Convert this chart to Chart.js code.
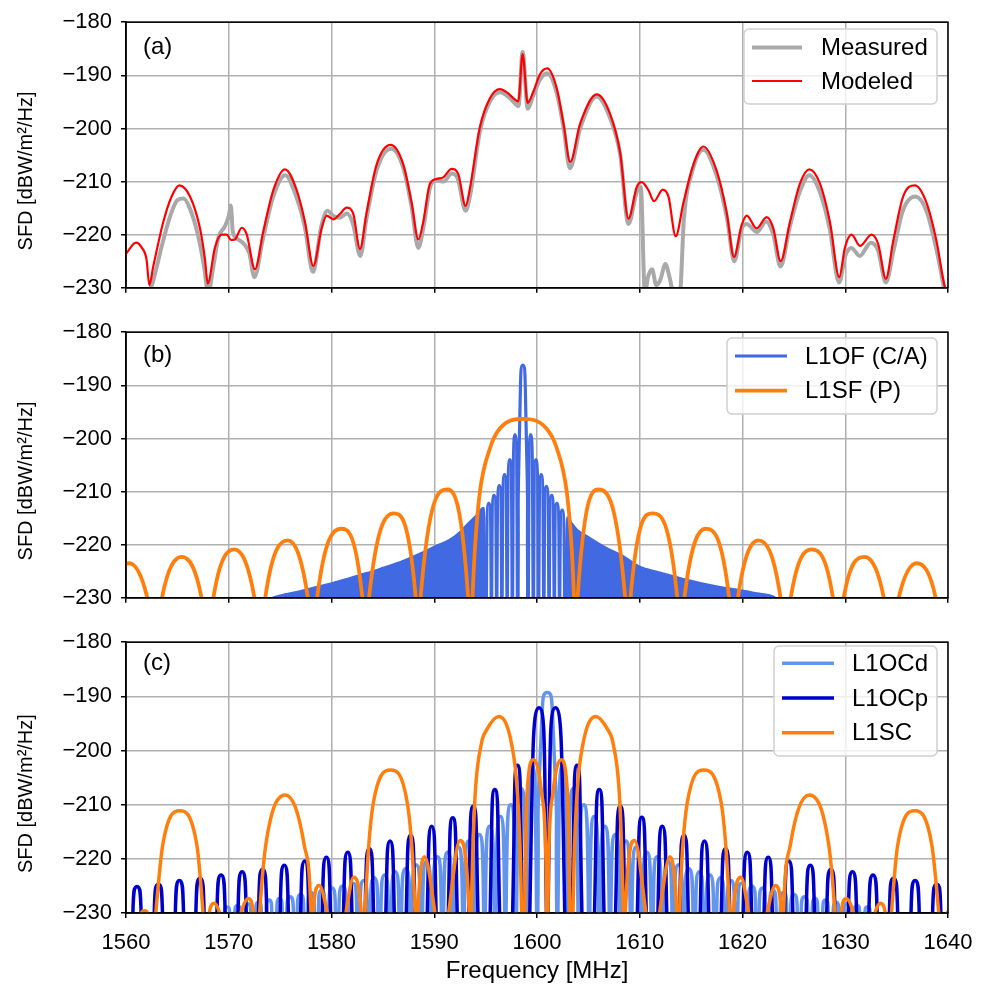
<!DOCTYPE html>
<html>
<head>
<meta charset="utf-8">
<title>SFD spectra</title>
<script src="https://cdn.jsdelivr.net/npm/chart.js@4.4.1/dist/chart.umd.min.js"></script>
<style>
  body { margin: 0; background: #fff; }
  canvas { position: absolute; left: 0; }
</style>
</head>
<body>
<canvas id="panelA" width="988" height="310" style="top:0px"></canvas>
<canvas id="panelB" width="988" height="310" style="top:310px"></canvas>
<canvas id="panelC" width="988" height="368" style="top:620px"></canvas>
<script>
// values, as [frequency MHz, SFD dBW/m2/Hz]
// -230 = where a lobe meets the bottom axis, -240 / -300 = null far below the axis

// (a) measured vs modeled
const modeledSfd = [
  [1560.0,-223.6],[1560.97,-221.5],[1561.52,-222.4],[1562.0,-224.7],[1562.27,-229.5],[1562.66,-225.9],
  [1563.63,-217.6],[1564.44,-212.8],[1565.19,-210.7],[1566.23,-212.8],[1567.2,-218.8],[1567.69,-224.7],
  [1567.95,-229.2],[1568.66,-222.4],[1569.31,-220.0],[1569.8,-220.0],[1570.22,-221.0],[1570.6,-220.9],
  [1571.26,-218.7],[1571.74,-219.9],[1572.55,-226.5],[1573.36,-219.4],[1574.34,-211.6],[1575.47,-207.7],
  [1576.61,-211.6],[1577.42,-217.6],[1578.23,-225.9],[1579.04,-218.8],[1579.53,-216.4],[1580.17,-217.1],
  [1580.82,-216.1],[1581.47,-214.9],[1582.12,-216.1],[1582.77,-222.7],[1583.42,-215.8],[1584.39,-206.8],
  [1585.75,-203.1],[1586.99,-206.8],[1587.8,-214.0],[1588.45,-220.9],[1588.93,-217.6],[1589.58,-210.4],
  [1590.23,-209.5],[1590.88,-209.2],[1591.69,-207.6],[1592.34,-208.6],[1593.05,-214.6],[1593.47,-211.3],
  [1594.45,-199.7],[1595.42,-194.3],[1596.39,-192.6],[1597.2,-193.4],[1597.69,-194.3],[1598.18,-194.9],
  [1598.6,-186.0],[1599.09,-195.2],[1599.64,-193.1],[1600.29,-189.8],[1601.0,-188.7],[1601.93,-192.5],
  [1602.58,-199.1],[1603.23,-206.3],[1604.2,-199.1],[1605.82,-193.6],[1607.12,-197.3],[1608.09,-204.5],
  [1608.9,-217.0],[1609.71,-211.0],[1610.19,-210.1],[1610.84,-211.6],[1611.39,-213.7],[1612.24,-211.5],
  [1612.79,-212.8],[1613.5,-220.3],[1614.25,-214.0],[1615.22,-206.8],[1616.19,-203.4],[1617.49,-208.0],
  [1618.46,-215.8],[1619.17,-224.2],[1619.92,-218.2],[1620.41,-216.4],[1621.38,-218.8],[1622.35,-216.7],
  [1623.0,-218.8],[1623.71,-225.0],[1624.62,-217.6],[1625.59,-210.4],[1626.5,-207.7],[1627.54,-210.4],
  [1628.51,-217.6],[1629.42,-228.0],[1629.97,-222.4],[1630.62,-220.0],[1631.43,-222.1],[1632.56,-220.0],
  [1633.21,-221.8],[1633.95,-228.3],[1634.67,-221.2],[1635.64,-212.8],[1636.77,-210.7],[1637.91,-214.0],
  [1638.88,-221.2],[1639.69,-229.8],[1640.0,-230.7]
];
const measuredSfd = [
  [1562.0,-232],[1562.6,-229],[1563.5,-222],[1564.3,-216.5],[1565.0,-213.5],[1565.6,-213.2],[1566.2,-215],
  [1567.0,-220],[1567.6,-226],[1568.0,-231],[1568.5,-226],[1569.0,-220.5],[1569.6,-218.5],[1570.0,-216.5],
  [1570.2,-214.5],[1570.4,-219.5],[1571.0,-221],[1571.6,-222],[1572.0,-223.5],[1572.5,-228],[1573.3,-221],
  [1574.3,-213],[1575.5,-208.8],[1576.6,-213],[1577.4,-218.5],[1578.2,-227],[1579.0,-218.5],[1579.6,-215.5],
  [1580.2,-216.5],[1580.8,-216.8],[1581.5,-216],[1582.1,-218],[1582.8,-224],[1583.4,-217],[1584.4,-207.8],
  [1585.8,-203.8],[1587.0,-207.5],[1587.8,-214.8],[1588.45,-222.5],[1589.0,-218],[1589.6,-211],[1590.2,-209.8],
  [1590.9,-210],[1591.7,-208.5],[1592.3,-209.5],[1593.05,-215.5],[1593.5,-212.5],[1594.45,-200.5],[1595.4,-195],
  [1596.4,-193.2],[1597.2,-194],[1597.7,-195],[1598.2,-195.8],[1598.6,-185.6],[1599.1,-196.3],[1599.6,-194],
  [1600.3,-190.8],[1601.0,-189.6],[1601.9,-193.2],[1602.6,-200],[1603.2,-207.5],[1604.2,-200],[1605.8,-194],
  [1607.1,-198],[1608.1,-205],[1608.9,-218],[1609.7,-212],[1610.1,-211],[1610.5,-231],[1610.8,-228],
  [1611.2,-226.5],[1611.6,-229.5],[1612.0,-228.5],[1612.5,-225.5],[1612.9,-228],[1613.3,-231],[1613.9,-231],
  [1614.3,-217],[1615.2,-207.5],[1616.2,-204],[1617.5,-209],[1618.5,-217],[1619.2,-225],[1619.9,-219],
  [1620.4,-218],[1621.4,-219.5],[1622.3,-217.5],[1623.0,-220],[1623.7,-226],[1624.6,-218.5],[1625.6,-211.8],
  [1626.5,-208.8],[1627.5,-211.8],[1628.5,-219],[1629.4,-229],[1630.0,-224],[1630.6,-222.5],[1631.4,-224],
  [1632.5,-221.5],[1633.2,-223],[1633.95,-229],[1634.7,-223],[1635.6,-215.5],[1636.8,-212.8],[1637.9,-215.5],
  [1638.9,-223],[1639.7,-231]
];

// (b) L1OF C/A lobes near the carrier, and the dense comb further out (top edge)
const l1ofLobes = [
  [1595.05,-300],[1595.08,-230],[1595.31,-212.2],[1595.54,-230],[1595.56,-300],[1595.59,-230],[1595.82,-210.7],
  [1596.05,-230],[1596.07,-300],[1596.1,-230],[1596.33,-208.9],[1596.56,-230],[1596.58,-300],[1596.61,-230],
  [1596.84,-206.8],[1597.07,-230],[1597.09,-300],[1597.12,-230],[1597.35,-204.0],[1597.58,-230],[1597.6,-300],
  [1597.63,-230],[1597.86,-199.3],[1598.09,-230],[1598.11,-300],[1598.16,-230],[1598.36,-193],[1598.625,-186.2],
  [1598.89,-193],[1599.09,-230],[1599.14,-300],[1599.16,-230],[1599.39,-199.3],[1599.62,-230],[1599.65,-300],
  [1599.67,-230],[1599.9,-204.0],[1600.13,-230],[1600.16,-300],[1600.18,-230],[1600.41,-206.8],[1600.64,-230],
  [1600.67,-300],[1600.69,-230],[1600.92,-209.0],[1601.15,-230],[1601.18,-300],[1601.2,-230],[1601.43,-210.7],
  [1601.66,-230],[1601.69,-300],[1601.71,-230],[1601.94,-212.2],[1602.17,-230],[1602.2,-300],[1602.22,-230],
  [1602.45,-213.5],[1602.68,-230],[1602.71,-300]
];
const l1ofComb = [
  [1573.4,-230.5],[1575.0,-229.5],[1576.9,-228.7],[1578.5,-227.9],[1580.2,-227.1],[1581.8,-226.2],
  [1583.4,-225.3],[1585.0,-224.3],[1586.7,-223.2],[1588.3,-221.9],[1589.9,-220.4],[1591.5,-219.0],
  [1592.4,-217.7],[1593.2,-216.1],[1594.0,-214.6],[1594.8,-213.0],[1595.0,-230],[1595.05,-300],
  [1602.71,-300],[1602.76,-230],[1602.97,-214.8],[1603.47,-216.1],[1604.0,-217.3],[1604.5,-217.9],
  [1605.0,-218.5],[1606.0,-219.7],[1607.0,-220.8],[1608.4,-222.1],[1610.0,-224.1],[1611.6,-225.0],
  [1613.3,-225.9],[1614.9,-226.7],[1616.5,-227.4],[1618.1,-228.0],[1619.75,-228.5],[1621.4,-229.1],
  [1623.0,-229.7],[1623.6,-230.5]
];
const l1sfLobes = [
  [1557.75,-240],[1558.45,-230],[1560.3,-223.5],[1562.07,-230],[1562.86,-240],[1563.5,-230],[1565.42,-222.3],
  [1567.35,-230],[1567.97,-240],[1568.5,-230],[1570.54,-220.9],[1572.5,-230],[1573.08,-240],[1573.55,-230],
  [1575.73,-219.2],[1577.7,-230],[1578.19,-240],[1578.6,-230],[1580.9,-217.0],[1583.0,-230],[1583.3,-240],
  [1583.65,-230],[1586.02,-214.1],[1588.2,-230],[1588.41,-240],[1588.67,-230],[1591.3,-209.6],[1593.3,-230],
  [1593.52,-240],[1593.72,-230],[1593.96,-220.8],[1594.44,-210.1],[1595.45,-201.7],[1596.4,-198.1],
  [1598.67,-196.3],[1600.9,-198.1],[1601.9,-201.7],[1602.9,-210.1],[1603.38,-220.8],[1603.6,-230],
  [1603.74,-240],[1603.95,-230],[1605.97,-209.6],[1608.58,-230],[1608.85,-240],[1609.1,-230],[1611.26,-214.1],
  [1613.65,-230],[1613.96,-240],[1614.35,-230],[1616.42,-217.0],[1618.7,-230],[1619.07,-240],[1619.55,-230],
  [1621.54,-219.2],[1623.7,-230],[1624.18,-240],[1624.7,-230],[1626.73,-220.9],[1628.8,-230],[1629.29,-240],
  [1629.85,-230],[1631.86,-222.3],[1633.75,-230],[1634.4,-240],[1635.2,-230],[1636.95,-223.5],[1638.8,-230],
  [1639.5,-240],[1641.0,-240]
];

// (c) L1OC data / pilot and L1SC
const l1ocdLobes = [
  [1569.29,-300],[1569.58,-230],[1569.83,-228.9],[1570.08,-230],[1570.31,-300],[1570.6,-230],[1570.85,-228.6],
  [1571.1,-230],[1571.33,-300],[1571.6,-230],[1571.87,-228.3],[1572.14,-230],[1572.36,-300],[1572.63,-230],
  [1572.9,-228.0],[1573.17,-230],[1573.38,-300],[1573.65,-230],[1573.92,-227.6],[1574.19,-230],[1574.4,-300],
  [1574.67,-230],[1574.94,-227.3],[1575.21,-230],[1575.43,-300],[1575.65,-230],[1575.97,-227.0],[1576.29,-230],
  [1576.45,-300],[1576.67,-230],[1576.99,-226.6],[1577.31,-230],[1577.47,-300],[1577.69,-230],[1578.01,-226.2],
  [1578.33,-230],[1578.49,-300],[1578.72,-230],[1579.04,-225.8],[1579.36,-230],[1579.52,-300],[1579.74,-230],
  [1580.06,-225.4],[1580.38,-230],[1580.54,-300],[1580.72,-230],[1581.08,-225.0],[1581.44,-230],[1581.56,-300],
  [1581.74,-230],[1582.1,-224.5],[1582.46,-230],[1582.59,-300],[1582.77,-230],[1583.13,-224.0],[1583.49,-230],
  [1583.61,-300],[1583.79,-230],[1584.15,-223.5],[1584.51,-230],[1584.63,-300],[1584.81,-230],[1585.17,-223.0],
  [1585.53,-230],[1585.66,-300],[1585.84,-230],[1586.2,-222.4],[1586.56,-230],[1586.68,-300],[1586.82,-230],
  [1587.22,-221.8],[1587.62,-230],[1587.7,-300],[1587.84,-230],[1588.24,-221.1],[1588.64,-230],[1588.72,-300],
  [1588.86,-230],[1589.26,-220.4],[1589.66,-230],[1589.75,-300],[1589.89,-230],[1590.29,-219.6],[1590.69,-230],
  [1590.77,-300],[1590.91,-230],[1591.31,-218.8],[1591.71,-230],[1591.79,-300],[1591.9,-230],[1592.33,-217.8],
  [1592.76,-230],[1592.82,-300],[1592.93,-230],[1593.36,-216.7],[1593.79,-230],[1593.84,-300],[1593.95,-230],
  [1594.38,-215.5],[1594.81,-230],[1594.86,-300],[1594.97,-230],[1595.4,-214.0],[1595.83,-230],[1595.88,-300],
  [1596.0,-230],[1596.43,-212.2],[1596.86,-230],[1596.91,-300],[1596.99,-230],[1597.45,-210.0],[1597.91,-230],
  [1597.93,-300],[1598.01,-230],[1598.47,-207.0],[1598.93,-230],[1598.95,-300],[1599.04,-230],[1599.5,-202.7],
  [1599.96,-230],[1599.98,-300],[1600.08,-230],[1600.5,-193],[1601.0,-189.3],[1601.5,-193],[1601.92,-230],
  [1602.02,-300],[1602.04,-230],[1602.5,-202.7],[1602.96,-230],[1603.05,-300],[1603.07,-230],[1603.53,-207.0],
  [1603.99,-230],[1604.07,-300],[1604.09,-230],[1604.55,-210.0],[1605.01,-230],[1605.09,-300],[1605.14,-230],
  [1605.57,-212.2],[1606.0,-230],[1606.12,-300],[1606.17,-230],[1606.6,-214.0],[1607.03,-230],[1607.14,-300],
  [1607.19,-230],[1607.62,-215.5],[1608.05,-230],[1608.16,-300],[1608.21,-230],[1608.64,-216.7],[1609.07,-230],
  [1609.18,-300],[1609.24,-230],[1609.67,-217.8],[1610.1,-230],[1610.21,-300],[1610.29,-230],[1610.69,-218.8],
  [1611.09,-230],[1611.23,-300],[1611.31,-230],[1611.71,-219.6],[1612.11,-230],[1612.25,-300],[1612.34,-230],
  [1612.74,-220.4],[1613.14,-230],[1613.28,-300],[1613.36,-230],[1613.76,-221.1],[1614.16,-230],[1614.3,-300],
  [1614.38,-230],[1614.78,-221.8],[1615.18,-230],[1615.32,-300],[1615.44,-230],[1615.8,-222.4],[1616.16,-230],
  [1616.34,-300],[1616.47,-230],[1616.83,-223.0],[1617.19,-230],[1617.37,-300],[1617.49,-230],[1617.85,-223.5],
  [1618.21,-230],[1618.39,-300],[1618.51,-230],[1618.87,-224.0],[1619.23,-230],[1619.41,-300],[1619.54,-230],
  [1619.9,-224.5],[1620.26,-230],[1620.44,-300],[1620.56,-230],[1620.92,-225.0],[1621.28,-230],[1621.46,-300],
  [1621.62,-230],[1621.94,-225.4],[1622.26,-230],[1622.48,-300],[1622.64,-230],[1622.96,-225.8],[1623.28,-230],
  [1623.51,-300],[1623.67,-230],[1623.99,-226.2],[1624.31,-230],[1624.53,-300],[1624.69,-230],[1625.01,-226.6],
  [1625.33,-230],[1625.55,-300],[1625.71,-230],[1626.03,-227.0],[1626.35,-230],[1626.57,-300],[1626.79,-230],
  [1627.06,-227.3],[1627.33,-230],[1627.6,-300],[1627.81,-230],[1628.08,-227.6],[1628.35,-230],[1628.62,-300],
  [1628.83,-230],[1629.1,-228.0],[1629.37,-230],[1629.64,-300],[1629.86,-230],[1630.13,-228.3],[1630.4,-230],
  [1630.67,-300],[1630.9,-230],[1631.15,-228.6],[1631.4,-230],[1631.69,-300],[1631.92,-230],[1632.17,-228.9],
  [1632.42,-230],[1632.71,-300]
];
const l1ocpLobes = [
  [1560.05,-300],[1560.67,-230],[1561.07,-225.1],[1561.47,-230],[1562.1,-300],[1562.75,-230],[1563.15,-224.7],
  [1563.55,-230],[1564.17,-300],[1564.8,-230],[1565.2,-224.0],[1565.6,-230],[1566.2,-300],[1566.8,-230],
  [1567.2,-223.6],[1567.6,-230],[1568.22,-300],[1568.85,-230],[1569.25,-223.0],[1569.65,-230],[1570.27,-300],
  [1570.9,-230],[1571.3,-222.4],[1571.7,-230],[1572.3,-300],[1572.9,-230],[1573.3,-221.9],[1573.7,-230],
  [1574.35,-300],[1575.0,-230],[1575.4,-221.2],[1575.8,-230],[1576.4,-300],[1577.0,-230],[1577.4,-220.4],
  [1577.8,-230],[1578.45,-300],[1579.1,-230],[1579.5,-219.7],[1579.9,-230],[1580.54,-300],[1581.17,-230],
  [1581.58,-218.8],[1581.99,-230],[1582.63,-300],[1583.27,-230],[1583.68,-218.1],[1584.09,-230],[1584.69,-300],
  [1585.29,-230],[1585.7,-216.7],[1586.11,-230],[1586.7,-300],[1587.28,-230],[1587.7,-215.6],[1588.12,-230],
  [1588.72,-300],[1589.32,-230],[1589.75,-214.0],[1590.18,-230],[1590.77,-300],[1591.37,-230],[1591.8,-212.4],
  [1592.23,-230],[1592.8,-300],[1593.35,-230],[1593.8,-210.3],[1594.25,-230],[1594.85,-300],[1595.44,-230],
  [1595.9,-207.2],[1596.36,-230],[1597.0,-300],[1597.63,-230],[1598.1,-202.7],[1598.57,-230],[1599.15,-300],
  [1599.3,-230],[1600.2,-192.1],[1600.92,-230],[1601.0,-300],[1601.08,-230],[1601.8,-192.1],[1602.7,-230],
  [1602.85,-300],[1603.43,-230],[1603.9,-202.7],[1604.37,-230],[1605.0,-300],[1605.6,-230],[1606.06,-207.2],
  [1606.52,-230],[1607.08,-300],[1607.65,-230],[1608.1,-210.3],[1608.55,-230],[1609.15,-300],[1609.77,-230],
  [1610.2,-212.3],[1610.63,-230],[1611.2,-300],[1611.77,-230],[1612.2,-214.0],[1612.63,-230],[1613.25,-300],
  [1613.88,-230],[1614.3,-215.6],[1614.72,-230],[1615.3,-300],[1615.89,-230],[1616.3,-216.7],[1616.71,-230],
  [1617.33,-300],[1617.94,-230],[1618.35,-218.1],[1618.76,-230],[1619.41,-300],[1620.06,-230],[1620.47,-218.8],
  [1620.88,-230],[1621.48,-300],[1622.1,-230],[1622.5,-219.7],[1622.9,-230],[1623.5,-300],[1624.1,-230],
  [1624.5,-220.4],[1624.9,-230],[1625.55,-300],[1626.2,-230],[1626.6,-221.2],[1627.0,-230],[1627.6,-300],
  [1628.2,-230],[1628.6,-221.9],[1629.0,-230],[1629.65,-300],[1630.3,-230],[1630.7,-222.4],[1631.1,-230],
  [1631.7,-300],[1632.3,-230],[1632.7,-223.0],[1633.1,-230],[1633.7,-300],[1634.3,-230],[1634.7,-223.6],
  [1635.1,-230],[1635.75,-300],[1636.4,-230],[1636.8,-224.0],[1637.2,-230],[1637.85,-300],[1638.5,-230],
  [1638.9,-224.7],[1639.3,-230],[1639.9,-300]
];
const l1scLobes = [
  [1560.9,-240],[1561.5,-230],[1561.8,-229.6],[1562.1,-230],[1562.5,-240],[1562.9,-230],[1563.57,-217.5],
  [1565.2,-211.1],[1566.9,-217.5],[1567.5,-230],[1567.85,-240],[1568.1,-230],[1568.6,-228.2],[1569.1,-230],
  [1570.2,-240],[1571.2,-230],[1571.9,-227.3],[1572.4,-230],[1572.7,-240],[1573.0,-230],[1573.6,-217.5],
  [1575.5,-208.2],[1577.35,-217.5],[1578.0,-230],[1578.1,-240],[1578.2,-230],[1578.8,-224.9],[1579.6,-230],
  [1580.5,-240],[1581.4,-230],[1582.15,-223.4],[1582.9,-230],[1583.1,-240],[1583.26,-230],[1584.07,-209.7],
  [1585.76,-203.6],[1587.38,-209.7],[1588.13,-230],[1588.25,-240],[1588.4,-230],[1589.05,-219.6],
  [1590.07,-230],[1590.7,-240],[1591.4,-230],[1592.5,-216.6],[1593.4,-230],[1593.5,-240],[1593.6,-230],
  [1593.92,-210.3],[1594.57,-198.9],[1595.1,-196.2],[1596.3,-193.7],[1597.54,-198.9],[1598.1,-207.9],
  [1598.4,-221.0],[1598.5,-230],[1598.65,-240],[1598.8,-230],[1599.0,-209.1],[1599.64,-201.7],
  [1600.45,-207.9],[1600.88,-221.0],[1601.0,-240],[1601.12,-221.0],[1601.55,-207.9],[1602.36,-201.7],
  [1603.0,-209.1],[1603.2,-230],[1603.35,-240],[1603.5,-230],[1603.6,-221.0],[1603.9,-207.9],
  [1604.46,-198.9],[1605.7,-193.7],[1606.9,-196.2],[1607.43,-198.9],[1608.08,-210.3],[1608.4,-230],
  [1608.5,-240],[1608.6,-230],[1609.5,-216.6],[1610.6,-230],[1611.3,-240],[1611.93,-230],[1612.95,-219.6],
  [1613.6,-230],[1613.75,-240],[1613.87,-230],[1614.62,-209.7],[1616.24,-203.6],[1617.93,-209.7],
  [1618.74,-230],[1618.9,-240],[1619.1,-230],[1619.85,-223.4],[1620.6,-230],[1621.5,-240],[1622.4,-230],
  [1623.2,-224.9],[1623.8,-230],[1623.9,-240],[1624.0,-230],[1624.65,-217.5],[1626.5,-208.2],
  [1628.4,-217.5],[1629.0,-230],[1629.3,-240],[1629.6,-230],[1630.1,-227.3],[1630.8,-230],[1631.8,-240],
  [1632.9,-230],[1633.4,-228.2],[1633.9,-230],[1634.15,-240],[1634.5,-230],[1635.1,-217.5],[1636.8,-211.1],
  [1638.43,-217.5],[1639.1,-230],[1639.5,-240],[1639.9,-230],[1640.2,-229.6],[1640.5,-230],[1641.0,-240]
];

const FONT = '"Liberation Sans", Arial, sans-serif';
Chart.defaults.font.family = FONT;
Chart.defaults.color = '#000';

const xy = pairs => pairs.map(([x, y]) => ({ x, y }));

function line(label, pairs, color, width, order, extra) {
  return Object.assign({
    label: label,
    data: xy(pairs),
    borderColor: color,
    backgroundColor: color,
    borderWidth: width,
    order: order,
    clip: 0,
    cubicInterpolationMode: 'monotone',
    pointRadius: 0,
    fill: false
  }, extra || {});
}

// rounder, U shaped lobe tops for the narrow code lobes
const arch = { cubicInterpolationMode: 'default', tension: 0.8 };

// black box round the axes, like matplotlib spines
const framePlugin = {
  id: 'frame',
  afterDatasetsDraw(chart) {
    const a = chart.chartArea, ctx = chart.ctx;
    ctx.save();
    ctx.strokeStyle = '#000';
    ctx.lineWidth = 1.5;
    ctx.strokeRect(a.left, a.top, a.right - a.left, a.bottom - a.top);
    ctx.restore();
  }
};

// legend box in the upper right, panel tag, y axis label
const legendPlugin = {
  id: 'legendBox',
  afterDraw(chart, args, o) {
    const ctx = chart.ctx, a = chart.chartArea;
    const items = chart.data.datasets.filter(d => d.label);
    ctx.save();
    ctx.beginPath();
    ctx.roundRect(o.x, o.y, o.w, o.h, 5);
    ctx.fillStyle = 'rgba(255,255,255,0.8)';
    ctx.fill();
    ctx.strokeStyle = '#d0d0d0';
    ctx.lineWidth = 1.5;
    ctx.stroke();
    ctx.font = '24px ' + FONT;
    ctx.textBaseline = 'middle';
    ctx.textAlign = 'left';
    items.forEach((d, i) => {
      const y = o.y0 + i * o.dy;
      ctx.beginPath();
      ctx.moveTo(o.lx, y);
      ctx.lineTo(o.lx + o.lw, y);
      ctx.strokeStyle = d.borderColor;
      ctx.lineWidth = d.borderWidth;
      ctx.stroke();
      ctx.fillStyle = '#000';
      ctx.fillText(d.label, o.tx, y + 1);
    });
    ctx.fillText(o.tag, a.left + 17, o.tagY);

    // y label, a little below the axes centre as in the reference
    ctx.translate(26, (a.top + a.bottom) / 2 + 16);
    ctx.rotate(-Math.PI / 2);
    ctx.textAlign = 'center';
    ctx.font = '20px ' + FONT;
    ctx.fillText('SFD [dBW/m\u00b2/Hz]', 0, 0);
    ctx.restore();
  }
};

function panel(id, datasets, cfg) {
  return new Chart(document.getElementById(id), {
    type: 'line',
    data: { datasets: datasets },
    options: {
      responsive: false,
      animation: false,
      events: [],
      layout: { padding: { top: cfg.padTop, right: 40, left: 0, bottom: 0 } },
      elements: { line: { capBezierPoints: false } },
      scales: {
        x: {
          type: 'linear',
          min: 1560,
          max: 1640,
          ticks: {
            stepSize: 10,
            autoSkip: false,
            maxRotation: 0,
            display: cfg.xLabels,
            padding: 12,
            font: { size: 22 },
            callback: v => String(v)
          },
          grid: { color: '#b0b0b0', lineWidth: 1.5, tickColor: '#000', tickWidth: 1.5, tickLength: 5 },
          border: { display: true, color: '#000', width: 1.5 },
          title: {
            display: cfg.xLabels,
            text: 'Frequency [MHz]',
            font: { size: 24 },
            padding: { top: 0, bottom: 2 }
          },
          afterFit: s => { s.height = cfg.xHeight; }
        },
        y: {
          min: -230,
          max: -180,
          ticks: {
            stepSize: 10,
            padding: 9,
            font: { size: 22 },
            callback: v => (v < 0 ? '\u2212' + Math.abs(v) : String(v))
          },
          grid: { color: '#b0b0b0', lineWidth: 1.5, tickColor: '#000', tickWidth: 1.5, tickLength: 5 },
          border: { display: true, color: '#000', width: 1.5 },
          title: { display: false },
          afterFit: s => { s.width = 126; }
        }
      },
      plugins: {
        legend: { display: false },
        tooltip: { enabled: false },
        legendBox: cfg.legend
      }
    },
    plugins: [framePlugin, legendPlugin]
  });
}

panel('panelA', [
  line('Measured', measuredSfd, '#a9a9a9', 4, 2),
  line('Modeled', modeledSfd, '#ff0000', 2.2, 1)
], {
  padTop: 17, xHeight: 14, xLabels: false,
  legend: { x: 744, y: 29, w: 193, h: 75, lx: 752, lw: 50, tx: 821, y0: 47.5, dy: 33.5, tag: '(a)', tagY: 47 }
});

panel('panelB', [
  line('L1OF (C/A)', l1ofLobes, '#4169e1', 3.2, 3, arch),
  line('', l1ofComb, '#4169e1', 1.5, 2, { fill: 'start' }),
  line('L1SF (P)', l1sfLobes, '#ff7f0e', 3.8, 1)
], {
  padTop: 16, xHeight: 15, xLabels: false,
  legend: { x: 727, y: 28, w: 210, h: 76, lx: 735, lw: 52, tx: 805, y0: 46, dy: 34.7, tag: '(b)', tagY: 45 }
});

panel('panelC', [
  line('L1OCd', l1ocdLobes, '#6495ed', 3.5, 3, arch),
  line('L1OCp', l1ocpLobes, '#0000cd', 3.5, 2, arch),
  line('L1SC', l1scLobes, '#ff7f0e', 3.5, 1)
], {
  padTop: 14, xHeight: 75, xLabels: true,
  legend: { x: 774, y: 26, w: 163, h: 110, lx: 782, lw: 52, tx: 852, y0: 43.3, dy: 34.7, tag: '(c)', tagY: 43 }
});
</script>
</body>
</html>
